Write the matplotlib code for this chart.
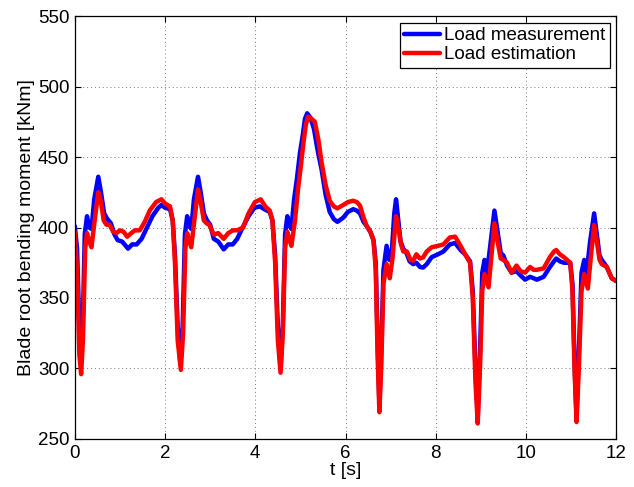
import matplotlib
matplotlib.use("Agg")
import matplotlib.pyplot as plt

t_meas = [0.0, 0.05, 0.10, 0.14, 0.18, 0.22, 0.27, 0.32, 0.37, 0.43, 0.52, 0.58, 0.65, 0.72, 0.80, 0.88, 0.95,
          1.05, 1.18, 1.27, 1.37, 1.48, 1.60, 1.72, 1.85, 1.92, 2.00, 2.11, 2.17, 2.22, 2.28, 2.34, 2.39, 2.44,
          2.49, 2.54, 2.58, 2.64, 2.73, 2.79, 2.86, 2.93, 3.00, 3.08, 3.18, 3.30, 3.40, 3.50, 3.60, 3.72, 3.85,
          3.98, 4.10, 4.20, 4.32, 4.38, 4.44, 4.50, 4.56, 4.61, 4.66, 4.71, 4.76, 4.80, 4.86, 4.92, 4.99, 5.05,
          5.10, 5.15, 5.22, 5.30, 5.38, 5.47, 5.56, 5.65, 5.74, 5.82, 5.95, 6.05, 6.17, 6.25, 6.32, 6.40, 6.47,
          6.55, 6.62, 6.67, 6.71, 6.75, 6.79, 6.84, 6.91, 6.97, 7.03, 7.08, 7.12, 7.17, 7.22, 7.28, 7.35, 7.42,
          7.50, 7.57, 7.65, 7.72, 7.80, 7.91, 8.05, 8.17, 8.31, 8.43, 8.55, 8.65, 8.76, 8.82, 8.88, 8.93, 8.98,
          9.03, 9.08, 9.13, 9.20, 9.30, 9.38, 9.44, 9.50, 9.58, 9.68, 9.79, 9.88, 9.98, 10.09, 10.17, 10.24,
          10.39, 10.53, 10.62, 10.67, 10.75, 10.84, 10.98, 11.03, 11.08, 11.12, 11.17, 11.23, 11.29, 11.34,
          11.42, 11.51, 11.57, 11.63, 11.68, 11.79, 11.90, 12.00]
v_meas = [401, 385, 330, 305, 335, 395, 408, 400, 399, 420, 436, 425, 410, 406, 403, 395, 391,
          390, 385, 388, 388, 392, 400, 408, 414, 416, 414, 413, 405, 380, 330, 303, 330, 395,
          408, 401, 399, 420, 436, 425, 410, 405, 402, 392, 390, 384.5, 388, 388, 392, 400, 408,
          414, 415, 413, 411, 405, 380, 330, 300, 330, 395, 408, 401, 399, 420, 434, 453, 465,
          477, 481, 478, 470, 455, 441, 423, 411, 406, 404, 407, 411, 413, 412, 410, 404, 401,
          397, 391, 375, 320, 275, 310, 370, 387, 377, 385, 410, 420, 405, 390, 385, 382, 376,
          374, 375, 372, 371.6, 374, 379, 381, 383, 388, 389, 384, 381, 376, 355, 300, 266, 310,
          368, 377, 367, 385, 412, 395, 382, 380, 373, 368, 369, 366, 363, 365, 364, 363,
          365, 372, 376, 378, 376, 375, 375, 360, 300, 266, 310, 368, 377, 367,
          390, 410, 395, 380, 377, 372, 364, 362]

t_est = [0.0, 0.05, 0.10, 0.14, 0.18, 0.23, 0.27, 0.32, 0.37, 0.44, 0.52, 0.58, 0.64, 0.70, 0.77, 0.85, 0.92,
         1.00, 1.08, 1.16, 1.25, 1.33, 1.44, 1.55, 1.66, 1.80, 1.92, 2.00, 2.11, 2.17, 2.22, 2.28, 2.35, 2.40,
         2.45, 2.49, 2.54, 2.58, 2.65, 2.73, 2.79, 2.86, 2.92, 2.98, 3.08, 3.18, 3.30, 3.40, 3.50, 3.60, 3.73,
         3.85, 3.99, 4.12, 4.22, 4.32, 4.38, 4.44, 4.50, 4.56, 4.61, 4.66, 4.71, 4.76, 4.80, 4.88, 4.95, 5.00,
         5.06, 5.12, 5.17, 5.25, 5.32, 5.40, 5.47, 5.56, 5.65, 5.74, 5.82, 5.95, 6.05, 6.17, 6.25, 6.32, 6.40,
         6.47, 6.55, 6.62, 6.67, 6.71, 6.75, 6.79, 6.84, 6.91, 6.98, 7.04, 7.12, 7.18, 7.23, 7.28, 7.36, 7.44,
         7.50, 7.57, 7.65, 7.72, 7.80, 7.91, 8.05, 8.17, 8.31, 8.43, 8.55, 8.65, 8.76, 8.82, 8.88, 8.93, 8.98,
         9.03, 9.08, 9.17, 9.22, 9.30, 9.37, 9.44, 9.50, 9.58, 9.68, 9.79, 9.88, 9.98, 10.09, 10.17, 10.24,
         10.39, 10.53, 10.62, 10.67, 10.75, 10.84, 10.98, 11.03, 11.08, 11.12, 11.17, 11.23, 11.29, 11.37,
         11.44, 11.51, 11.57, 11.63, 11.68, 11.79, 11.90, 12.00]
v_est = [397, 370, 310, 296, 320, 385, 396, 390, 386, 405, 425, 418, 405, 402, 402, 397, 396,
         398, 397, 393.5, 396, 398, 398, 404, 412, 418, 420, 417, 415, 405, 375, 320, 299, 325,
         385, 396, 390, 386, 405, 427, 418, 405, 403, 402, 395, 396, 392, 396, 398, 398, 400,
         410, 418, 420, 415, 412, 405, 375, 320, 297, 325, 385, 397, 391, 387, 405, 428, 441,
         458, 473, 478.6, 477, 475, 462, 446, 430, 419, 415, 413.6, 416, 418, 419, 418, 415.6, 407,
         401, 397, 391, 370, 310, 269, 300, 360, 374, 364, 378, 408, 398, 388, 383, 383, 377,
         376.5, 381, 378, 378.8, 383, 386, 387, 388, 392.9, 393.5, 387, 381, 375, 350, 290, 261, 300,
         355, 367, 357.6, 375, 403, 390, 378, 377, 375, 368, 373, 369, 368, 372, 370, 370,
         371, 379, 383, 384, 381, 379, 375, 355, 295, 262, 300, 355, 367, 356.7,
         380, 401.7, 390, 377, 374, 372, 364, 362]

x_ticks = [0, 2, 4, 6, 8, 10, 12]
y_ticks = [250, 300, 350, 400, 450, 500, 550]

plt.rcParams['font.family'] = ['Liberation Sans', 'DejaVu Sans']

fig = plt.figure(figsize=(6.34, 4.87), dpi=100)
ax = fig.add_axes([0.118, 0.0986, 0.854, 0.8685])

ax.plot(t_meas, v_meas, color=(0, 0, 1), lw=3.2, label='Load measurement',
        solid_joinstyle='round', solid_capstyle='round')
ax.plot(t_est, v_est, color=(1, 0, 0), lw=3.2, label='Load estimation',
        solid_joinstyle='round', solid_capstyle='round')

ax.set_xlim(0, 12)
ax.set_ylim(250, 550)
ax.set_xticks(x_ticks)
ax.set_yticks(y_ticks)
ax.tick_params(direction='in', top=True, right=True, labelsize=13.5, length=4, pad=4)
ax.grid(True, linestyle=(0, (1, 3)), color='#777777', linewidth=0.7)
for s in ax.spines.values():
    s.set_linewidth(0.9)

ax.set_xlabel('t [s]', fontsize=14, labelpad=0)
ax.set_ylabel('Blade root bending moment [kNm]', fontsize=14, labelpad=2)

leg = ax.legend(loc='upper right', fontsize=13.5, fancybox=False, edgecolor='black',
                framealpha=1, handlelength=1.9, borderaxespad=0.35, handletextpad=0.2,
                labelspacing=0.1, borderpad=0.25)
leg.get_frame().set_linewidth(0.9)

fig.savefig('out.png', dpi=100)
